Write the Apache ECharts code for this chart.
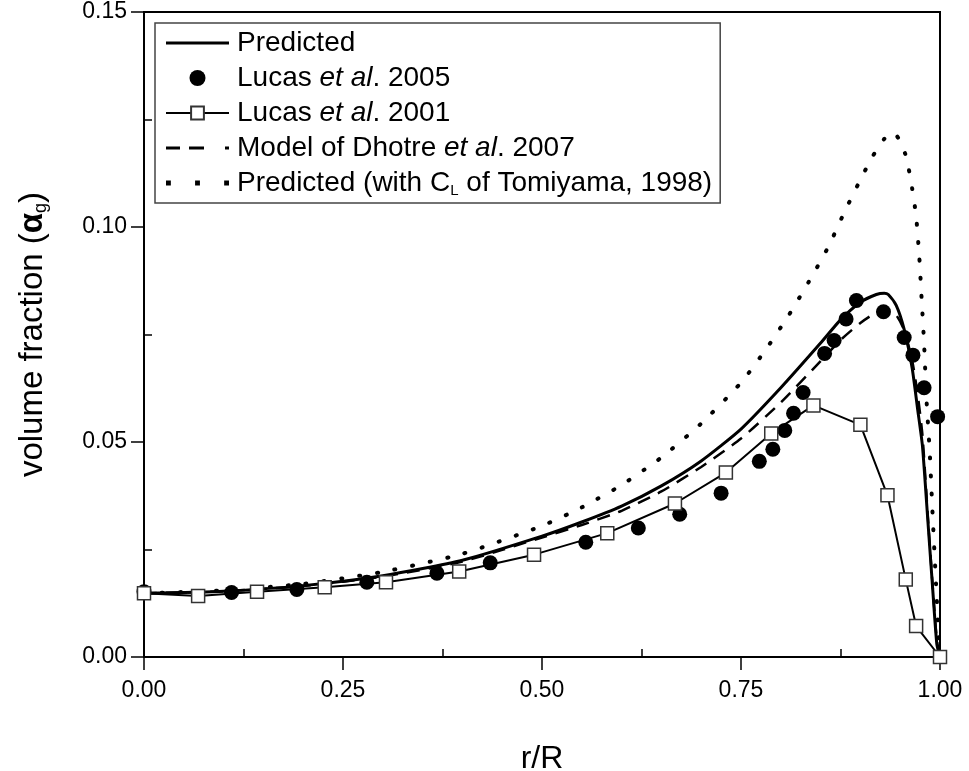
<!DOCTYPE html>
<html>
<head>
<meta charset="utf-8">
<script src="https://cdn.jsdelivr.net/npm/echarts@6/dist/echarts.min.js"></script>
<style>
  html, body { margin: 0; padding: 0; background: #fff; }
  #chart { width: 969px; height: 771px; }
</style>
</head>
<body>
<div id="chart"></div>
<script>
// Radial void fraction profiles: r/R vs gas volume fraction
const xTicks = [0, 0.25, 0.5, 0.75, 1.0];
const yTicks = [0, 0.05, 0.10, 0.15];

// Predicted (solid)
const predR = [0, 0.1, 0.2, 0.3, 0.4, 0.5, 0.55, 0.6, 0.65, 0.7, 0.75, 0.8, 0.85, 0.875, 0.9, 0.92, 0.93, 0.935, 0.945, 0.955, 0.965, 0.972, 0.978, 0.985, 0.99, 0.996, 1.0];
const predV = [0.0148, 0.0153, 0.0166, 0.0189, 0.0225, 0.0281, 0.0314, 0.0351, 0.0398, 0.0456, 0.0530, 0.0626, 0.0730, 0.0784, 0.0825, 0.0843, 0.0846, 0.0843, 0.0818, 0.0762, 0.0672, 0.0575, 0.0490, 0.0310, 0.0180, 0.0030, 0.0];

// Lucas et al. 2005 (filled circles)
const lucas05R = [0.000, 0.110, 0.192, 0.280, 0.368, 0.435, 0.555, 0.621, 0.673, 0.725, 0.773, 0.790, 0.805, 0.816, 0.828, 0.855, 0.867, 0.882, 0.895, 0.929, 0.955, 0.966, 0.980, 0.997];
const lucas05V = [0.0152, 0.0150, 0.0157, 0.0174, 0.0195, 0.0219, 0.0267, 0.0300, 0.0332, 0.0381, 0.0455, 0.0483, 0.0527, 0.0567, 0.0615, 0.0706, 0.0736, 0.0786, 0.0829, 0.0803, 0.0743, 0.0702, 0.0626, 0.0559];

// Lucas et al. 2001 (open squares joined by line)
const lucas01R = [0.000, 0.068, 0.142, 0.227, 0.304, 0.396, 0.490, 0.582, 0.667, 0.731, 0.788, 0.841, 0.900, 0.934, 0.957, 0.970, 1.000];
const lucas01V = [0.0148, 0.0142, 0.0152, 0.0162, 0.0174, 0.0199, 0.0238, 0.0288, 0.0357, 0.0429, 0.0520, 0.0585, 0.0540, 0.0376, 0.0180, 0.0072, 0.0];

// Model of Dhotre et al. 2007 (dashed)
const dhotreR = [0, 0.1, 0.2, 0.3, 0.4, 0.5, 0.55, 0.6, 0.65, 0.7, 0.75, 0.8, 0.85, 0.875, 0.9, 0.92, 0.935, 0.945, 0.955, 0.965, 0.972, 0.978, 0.985, 0.99, 0.996, 1.0];
const dhotreV = [0.0148, 0.0153, 0.0165, 0.0187, 0.0222, 0.0278, 0.0307, 0.0340, 0.0385, 0.0442, 0.0508, 0.0592, 0.0688, 0.0737, 0.0777, 0.0801, 0.0806, 0.0795, 0.0760, 0.0690, 0.0610, 0.0515, 0.0320, 0.0185, 0.0040, 0.0];

// Predicted with C_L of Tomiyama, 1998 (dotted)
const tomiR = [0, 0.1, 0.2, 0.3, 0.4, 0.5, 0.55, 0.6, 0.65, 0.7, 0.75, 0.78, 0.81, 0.835, 0.86, 0.88, 0.9, 0.915, 0.93, 0.941, 0.95, 0.958, 0.965, 0.97, 0.974, 0.977, 0.98, 0.983, 0.987, 0.991, 0.995, 0.998, 1.0];
const tomiV = [0.0148, 0.0155, 0.0170, 0.0198, 0.0240, 0.0305, 0.0348, 0.0400, 0.0464, 0.0543, 0.0638, 0.0712, 0.0795, 0.0872, 0.0955, 0.1035, 0.1110, 0.1163, 0.1205, 0.1220, 0.1200, 0.1160, 0.1090, 0.1025, 0.0930, 0.0830, 0.0730, 0.0600, 0.0480, 0.0320, 0.0170, 0.0060, 0.0];

const zip = (xs, ys) => xs.map((x, i) => [x, ys[i]]);

const FONT = 'Liberation Sans, Arial, sans-serif';

const legendText = {
  'Predicted': 'Predicted',
  'Lucas et al. 2005': 'Lucas {i|et al}. 2005',
  'Lucas et al. 2001': 'Lucas {i|et al}. 2001',
  'Model of Dhotre et al. 2007': 'Model of Dhotre {i|et al}. 2007',
  'Predicted (with C_L of Tomiyama, 1998)': 'Predicted (with C{sub|L} of Tomiyama, 1998)'
};

// legend key glyphs for the line styles
const ICON_SOLID = 'path://M0,0h63v3h-63z';
const ICON_DASH = 'path://M0,0h14v3h-14z M23,0h15v3h-15z M59,0h4v3h-4z';
const ICON_DOT = 'path://M0,0h4v4h-4z M24,0h4v4h-4z M48,0h4v4h-4z';

const chart = echarts.init(document.getElementById('chart'), null, { renderer: 'canvas' });

chart.setOption({
  animation: false,
  backgroundColor: '#fff',
  grid: {
    left: 144, right: 29, top: 12, bottom: 114,
    outerBoundsMode: 'none',
    containLabel: false,
    show: true, borderColor: '#000', borderWidth: 2, backgroundColor: 'transparent'
  },
  legend: {
    orient: 'vertical',
    left: 155, top: 23,
    padding: [5, 8, 5, 10],
    itemGap: 5,
    itemWidth: 63,
    itemHeight: 16,
    symbolKeepAspect: true,
    backgroundColor: '#fff',
    borderColor: '#444',
    borderWidth: 1.5,
    borderRadius: 0,
    selectedMode: false,
    formatter: name => legendText[name],
    textStyle: {
      fontFamily: FONT, fontSize: 28, color: '#000', lineHeight: 30, padding: [0, 0, 0, 3],
      rich: {
        i: { fontFamily: FONT, fontSize: 28, fontStyle: 'italic', color: '#000', lineHeight: 30 },
        sub: { fontFamily: FONT, fontSize: 15, color: '#000', padding: [15, 0, 0, 0], lineHeight: 15 }
      }
    },
    data: [
      { name: 'Predicted', icon: ICON_SOLID },
      { name: 'Lucas et al. 2005' },
      { name: 'Lucas et al. 2001' },
      { name: 'Model of Dhotre et al. 2007', icon: ICON_DASH },
      { name: 'Predicted (with C_L of Tomiyama, 1998)', icon: ICON_DOT }
    ]
  },
  xAxis: {
    type: 'value',
    min: xTicks[0], max: xTicks[xTicks.length - 1], interval: 0.25,
    name: 'r/R',
    nameLocation: 'middle',
    nameGap: 86,
    nameTextStyle: { fontFamily: FONT, fontSize: 32, color: '#000' },
    axisLine: { show: true, onZero: false, lineStyle: { color: '#000', width: 2 } },
    axisTick: { show: true, inside: false, length: 13, lineStyle: { color: '#000', width: 1.5 } },
    minorTick: { show: true, splitNumber: 2, length: -8, lineStyle: { color: '#000', width: 1.5 } },
    axisLabel: { fontFamily: FONT, fontSize: 23, color: '#000', margin: 22, formatter: v => v.toFixed(2) },
    splitLine: { show: false }
  },
  yAxis: {
    type: 'value',
    min: yTicks[0], max: yTicks[yTicks.length - 1], interval: 0.05,
    name: 'volume fraction ({a|α}{sub|g})',
    nameLocation: 'middle',
    nameGap: 94,
    nameRotate: 90,
    nameTextStyle: {
      fontFamily: FONT, fontSize: 33, color: '#000',
      rich: {
        a: { fontFamily: FONT, fontSize: 33, fontWeight: 'bold', color: '#000' },
        sub: { fontFamily: FONT, fontSize: 18, color: '#000', padding: [17, 0, 0, 0] }
      }
    },
    axisLine: { show: true, onZero: false, lineStyle: { color: '#000', width: 2 } },
    axisTick: { show: true, inside: false, length: 13, lineStyle: { color: '#000', width: 1.5 } },
    minorTick: { show: true, splitNumber: 2, length: -8, lineStyle: { color: '#000', width: 1.5 } },
    axisLabel: { fontFamily: FONT, fontSize: 23, color: '#000', margin: 17, formatter: v => v.toFixed(2) },
    splitLine: { show: false }
  },
  series: [
    {
      name: 'Predicted',
      type: 'line',
      data: zip(predR, predV),
      symbol: 'none',
      smooth: 0.2,
      lineStyle: { color: '#000', width: 3 },
      itemStyle: { color: '#000' },
      z: 2
    },
    {
      name: 'Lucas et al. 2005',
      type: 'scatter',
      data: zip(lucas05R, lucas05V),
      symbol: 'circle',
      symbolSize: 15,
      itemStyle: { color: '#000', opacity: 1 },
      z: 4
    },
    {
      name: 'Lucas et al. 2001',
      type: 'line',
      data: zip(lucas01R, lucas01V),
      symbol: 'rect',
      symbolSize: 13,
      showAllSymbol: true,
      lineStyle: { color: '#000', width: 2 },
      itemStyle: { color: '#fff', borderColor: '#333', borderWidth: 1.5 },
      z: 5
    },
    {
      name: 'Model of Dhotre et al. 2007',
      type: 'line',
      data: zip(dhotreR, dhotreV),
      symbol: 'none',
      smooth: 0.2,
      lineStyle: { color: '#000', width: 2.5, type: [13, 9] },
      itemStyle: { color: '#000' },
      z: 2
    },
    {
      name: 'Predicted (with C_L of Tomiyama, 1998)',
      type: 'line',
      data: zip(tomiR, tomiV),
      symbol: 'none',
      smooth: 0.2,
      lineStyle: { color: '#000', width: 4, type: [1, 17], cap: 'round' },
      itemStyle: { color: '#000' },
      z: 2
    }
  ]
});
</script>
</body>
</html>
